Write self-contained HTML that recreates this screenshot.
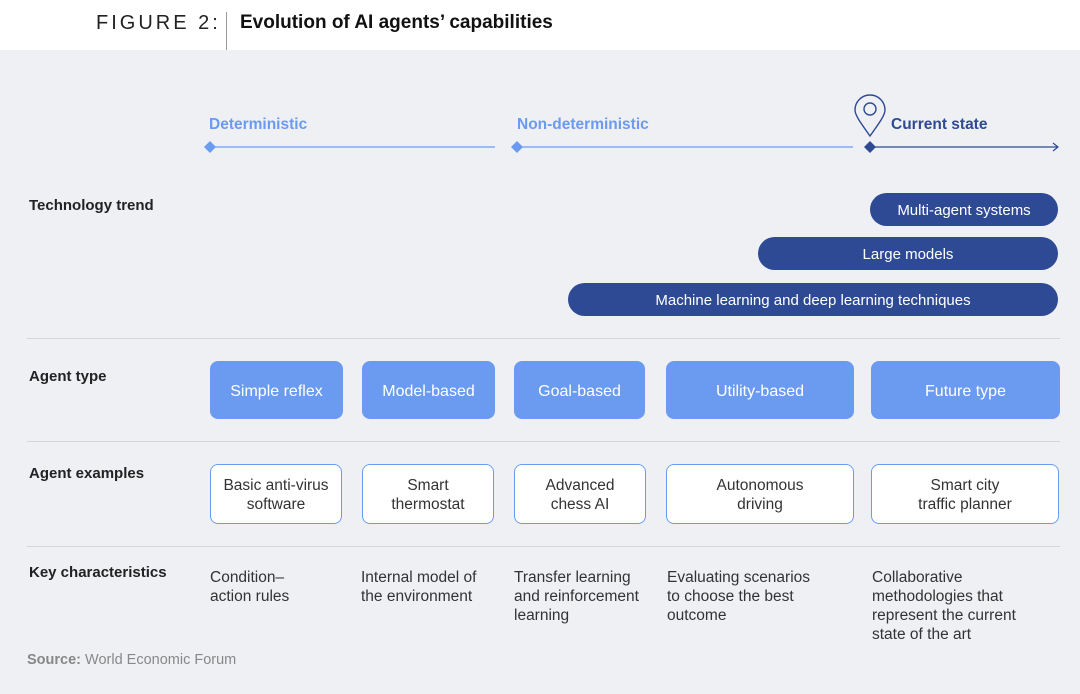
<!DOCTYPE html>
<html><head><style>
body{margin:0;width:1080px;height:694px;background:#eff0f4;font-family:"Liberation Sans",sans-serif;position:relative;overflow:hidden}
.a{position:absolute}
.hdr{left:0;top:0;width:1080px;height:50px;background:#fff}
.lbl{font-size:15px;font-weight:bold;color:#222;left:29px}
.pill{background:#2e4a95;color:#fff;border-radius:17px;font-size:15px;text-align:center;line-height:35px;height:33px}
.bx{background:#6b9bf0;color:#fff;border-radius:8px;font-size:16px;text-align:center;height:58px;line-height:61px;top:361px}
.ex{background:#fff;border:1.5px solid #6b9bf0;border-radius:8px;font-size:15.5px;color:#333;text-align:center;top:464px;display:flex;align-items:center;justify-content:center;line-height:19px;box-sizing:border-box;height:60px;padding-top:2px}
.kc{font-size:15.5px;color:#333;line-height:19px;top:568px}
.sep{left:27px;width:1033px;height:1px;background:#d3d5da}
</style></head><body>
<div class="a hdr"></div>
<div class="a" style="left:96px;top:12px;font-size:20px;letter-spacing:3px;color:#222">FIGURE 2:</div>
<div class="a" style="left:226px;top:12px;width:1px;height:38px;background:#999"></div>
<div class="a" style="left:240px;top:12px;font-size:19px;font-weight:bold;color:#111">Evolution of AI agents’ capabilities</div>

<div class="a" style="left:209px;top:116px;font-size:15.5px;font-weight:bold;color:#6b9bf0">Deterministic</div>
<div class="a" style="left:517px;top:116px;font-size:15.5px;font-weight:bold;color:#6b9bf0">Non-deterministic</div>
<div class="a" style="left:891px;top:116px;font-size:15.5px;font-weight:bold;color:#2e4a95">Current state</div>
<svg class="a" style="left:0;top:90px" width="1080" height="70">
<line x1="210" y1="57" x2="495" y2="57" stroke="#6b9bf0" stroke-width="1.2"/>
<line x1="517" y1="57" x2="853" y2="57" stroke="#6b9bf0" stroke-width="1.2"/>
<line x1="870" y1="57" x2="1058" y2="57" stroke="#2e4a95" stroke-width="1.2"/>
<polyline points="1053,53 1058,57 1053,61" fill="none" stroke="#2e4a95" stroke-width="1.2"/>
<polygon points="210,51 216,57 210,63 204,57" fill="#6b9bf0"/>
<polygon points="517,51 523,57 517,63 511,57" fill="#6b9bf0"/>
<polygon points="870,51 876,57 870,63 864,57" fill="#2e4a95"/>
<path d="M870,46 C860,32 855,25 855,20 A15,15 0 0 1 885,20 C885,25 880,32 870,46 Z" fill="none" stroke="#2e4a95" stroke-width="1.4"/>
<circle cx="870" cy="19" r="6" fill="none" stroke="#2e4a95" stroke-width="1.4"/>
</svg>

<div class="a lbl" style="top:197px">Technology trend</div>
<div class="a pill" style="left:870px;top:193px;width:188px">Multi-agent systems</div>
<div class="a pill" style="left:758px;top:237px;width:300px">Large models</div>
<div class="a pill" style="left:568px;top:283px;width:490px">Machine learning and deep learning techniques</div>

<div class="a sep" style="top:338px"></div>
<div class="a lbl" style="top:368px">Agent type</div>
<div class="a bx" style="left:210px;width:133px">Simple reflex</div>
<div class="a bx" style="left:362px;width:133px">Model-based</div>
<div class="a bx" style="left:514px;width:131px">Goal-based</div>
<div class="a bx" style="left:666px;width:188px">Utility-based</div>
<div class="a bx" style="left:871px;width:189px">Future type</div>

<div class="a sep" style="top:441px"></div>
<div class="a lbl" style="top:465px">Agent examples</div>
<div class="a ex" style="left:210px;width:132px">Basic anti-virus<br>software</div>
<div class="a ex" style="left:362px;width:132px">Smart<br>thermostat</div>
<div class="a ex" style="left:514px;width:132px">Advanced<br>chess AI</div>
<div class="a ex" style="left:666px;width:188px">Autonomous<br>driving</div>
<div class="a ex" style="left:871px;width:188px">Smart city<br>traffic planner</div>

<div class="a sep" style="top:546px"></div>
<div class="a lbl" style="top:564px">Key characteristics</div>
<div class="a kc" style="left:210px">Condition–<br>action rules</div>
<div class="a kc" style="left:361px">Internal model of<br>the environment</div>
<div class="a kc" style="left:514px">Transfer learning<br>and reinforcement<br>learning</div>
<div class="a kc" style="left:667px">Evaluating scenarios<br>to choose the best<br>outcome</div>
<div class="a kc" style="left:872px">Collaborative<br>methodologies that<br>represent the current<br>state of the art</div>

<div class="a" style="left:27px;top:652px;font-size:14.5px;color:#888"><b>Source:</b> World Economic Forum</div>
</body></html>
